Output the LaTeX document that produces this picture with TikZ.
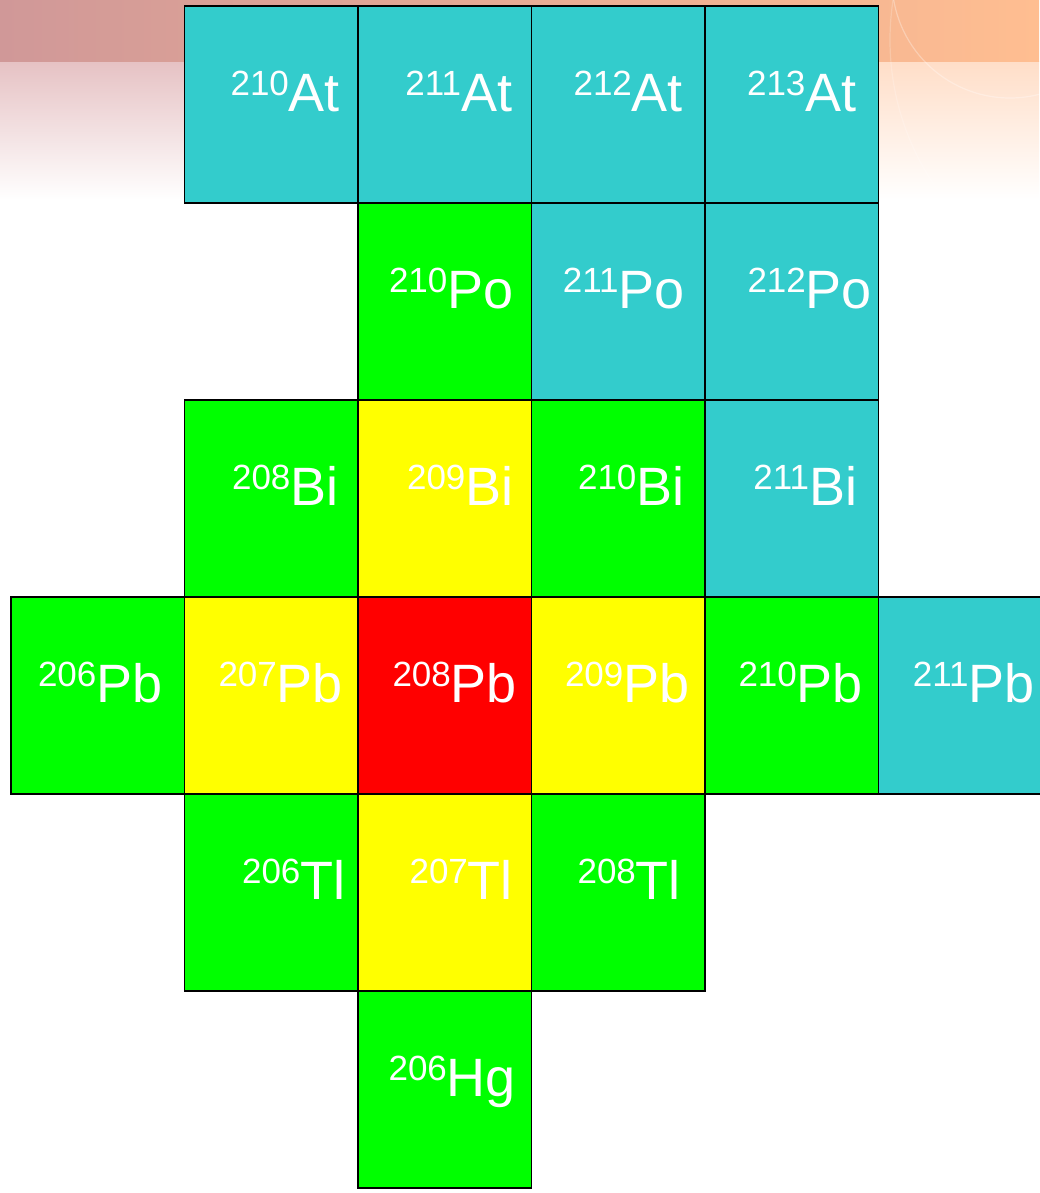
\documentclass[tikz,border=0pt]{standalone}
\usepackage{fontspec}
\setmainfont{Liberation Sans}
\usepackage{tikz}
\usetikzlibrary{positioning}

\definecolor{nuccyan}{HTML}{33CCCC}
\definecolor{nucgreen}{HTML}{00FF00}
\definecolor{nucyellow}{HTML}{FFFF00}
\definecolor{nucred}{HTML}{FF0000}
\definecolor{bandleft}{RGB}{208,152,152}
\definecolor{bandmid}{RGB}{246,152,142}
\definecolor{bandright}{RGB}{255,190,145}
\definecolor{paleleft}{RGB}{230,194,196}
\definecolor{paleright}{RGB}{255,222,200}

% mass number as superscript, then the element symbol
\newcommand{\iso}[3][20pt]{\hspace*{#1}\raisebox{16pt}{\fontsize{35}{35}\selectfont #2}#3}

\begin{document}
\begin{tikzpicture}[x=1pt, y=1pt,
    cell/.style={rectangle, draw=black, line width=1.5pt, minimum width=173.5pt, minimum height=197pt,
                 inner sep=0pt, outer sep=0pt, text=white, font=\fontsize{54}{54}\selectfont,
                 text height=40pt, text depth=26pt}]

    \useasboundingbox (0,0) rectangle (1039,-1193);

    % slide background at the top
    \shade [top color=paleleft, bottom color=white] (0,-62) rectangle (600,-200);
    \shade [top color=paleright, bottom color=white] (600,-62) rectangle (1039,-200);
    \fill [left color=bandleft, middle color=bandmid, right color=bandright] (0,0) rectangle (1039,-62);
    \draw [white, opacity=0.3, line width=1.2pt] (1010,20) circle (118);
    \draw [white, opacity=0.2, line width=1.2pt] (1150,-40) circle (260);

    % row of lead
    \node [cell, fill=nucred] (pb208) at (444.75,-695.5) {\iso{208}{Pb}};
    \node [cell, fill=nucyellow, left=0pt of pb208] (pb207) {\iso[19pt]{207}{Pb}};
    \node [cell, fill=nucgreen, left=0pt of pb207] (pb206) {\iso[5pt]{206}{Pb}};
    \node [cell, fill=nucyellow, right=0pt of pb208] (pb209) {\iso[18pt]{209}{Pb}};
    \node [cell, fill=nucgreen, right=0pt of pb209] (pb210) {\iso[18pt]{210}{Pb}};
    \node [cell, fill=nuccyan, right=0pt of pb210] (pb211) {\iso[17pt]{211}{Pb}};

    % bismuth
    \node [cell, fill=nucyellow, above=0pt of pb208] (bi209) {\iso[31pt]{209}{Bi}};
    \node [cell, fill=nucgreen, left=0pt of bi209] (bi208) {\iso[28pt]{208}{Bi}};
    \node [cell, fill=nucgreen, right=0pt of bi209] (bi210) {\iso[26pt]{210}{Bi}};
    \node [cell, fill=nuccyan, right=0pt of bi210] (bi211) {\iso[27pt]{211}{Bi}};

    % polonium
    \node [cell, fill=nucgreen, above=0pt of bi209] (po210) {\iso[13pt]{210}{Po}};
    \node [cell, fill=nuccyan, right=0pt of po210] (po211) {\iso[11pt]{211}{Po}};
    \node [cell, fill=nuccyan, right=0pt of po211] (po212) {\iso[36pt]{212}{Po}};

    % astatine
    \node [cell, fill=nuccyan, above=0pt of po210] (at211) {\iso[28pt]{211}{At}};
    \node [cell, fill=nuccyan, left=0pt of at211] (at210) {\iso[28pt]{210}{At}};
    \node [cell, fill=nuccyan, right=0pt of at211] (at212) {\iso{212}{At}};
    \node [cell, fill=nuccyan, right=0pt of at212] (at213) {\iso{213}{At}};

    % thallium and mercury
    \node [cell, fill=nucyellow, below=0pt of pb208] (tl207) {\iso[33pt]{207}{Tl}};
    \node [cell, fill=nucgreen, left=0pt of tl207] (tl206) {\iso[45pt]{206}{Tl}};
    \node [cell, fill=nucgreen, right=0pt of tl207] (tl208) {\iso[22pt]{208}{Tl}};
    \node [cell, fill=nucgreen, below=0pt of tl207] (hg206) {\iso[15pt]{206}{Hg}};
\end{tikzpicture}
\end{document}
